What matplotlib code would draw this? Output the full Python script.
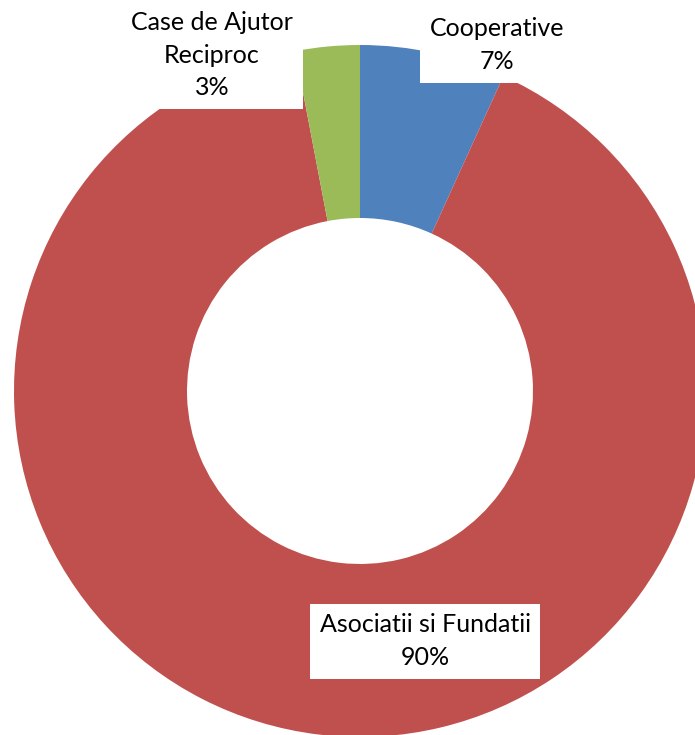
import matplotlib.pyplot as plt

# slice data (clockwise from 12 o'clock)
labels = ["Cooperative", "Asociatii si Fundatii", "Case de Ajutor\nReciproc"]
shares = [6.8, 90.2, 3.0]
colors = ["#4F81BD", "#C0504D", "#9BBB59"]

# label placement in pixel coords (x, y from top)
label_pos = [(497, 45), (425, 641), (212, 55)]

W, H = 695, 735
fig = plt.figure(figsize=(W / 100, H / 100), dpi=100)
ax = fig.add_axes([0, 0, 1, 1])

ax.pie(shares, colors=colors, startangle=90, counterclock=False,
       center=(360, H - 391), radius=346, frame=True,
       wedgeprops=dict(width=173, edgecolor="none"))
ax.set_xlim(0, W)
ax.set_ylim(0, H)
ax.set_aspect("equal")
ax.axis("off")

for lab, val, (x, y) in zip(labels, shares, label_pos):
    ax.text(x, H - y, f"{lab}\n{val:.0f}%", ha="center", va="center",
            fontsize=18, family="Lato", linespacing=1.5,
            bbox=dict(facecolor="white", edgecolor="none", pad=7))

fig.savefig("out.png", dpi=100)
